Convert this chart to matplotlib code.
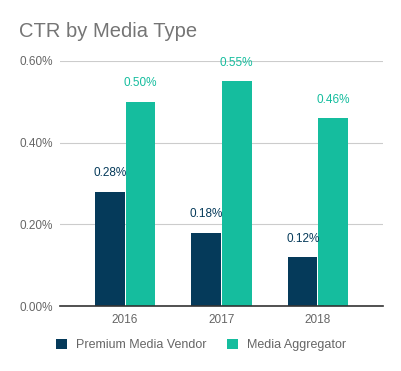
import matplotlib
matplotlib.use("Agg")
import matplotlib.pyplot as plt
import numpy as np

years = ["2016", "2017", "2018"]
premium = [0.28, 0.18, 0.12]
aggregator = [0.50, 0.55, 0.46]
series_names = ["Premium Media Vendor", "Media Aggregator"]
yticks = [0.0, 0.2, 0.4, 0.6]

dark = "#053a5a"
green = "#15bd9e"

plt.rcParams['font.family'] = ['Liberation Sans', 'DejaVu Sans']

fig = plt.figure(figsize=(4.02, 3.71), dpi=100)
ax = fig.add_axes([0.149, 0.175, 0.804, 0.661])

x = np.arange(len(years))
w = 0.31
ax.bar(x - w / 2 - 0.005, premium, w, color=dark, label=series_names[0], zorder=3)
ax.bar(x + w / 2 + 0.005, aggregator, w, color=green, label=series_names[1], zorder=3)

for i in range(len(years)):
    ax.text(x[i] - w / 2, premium[i] + 0.045, "%.2f%%" % premium[i], ha="center", va="center",
            color=dark, fontsize=8.5, zorder=4)
    ax.text(x[i] + w / 2, aggregator[i] + 0.045, "%.2f%%" % aggregator[i], ha="center", va="center",
            color=green, fontsize=8.5, zorder=4)

ax.set_xlim(-0.675, 2.675)
ax.set_ylim(0, 0.6)
ax.set_yticks(yticks)
ax.set_yticklabels(["%.2f%%" % v for v in yticks])
ax.set_xticks(x)
ax.set_xticklabels(years)
ax.grid(axis="y", color="#cccccc", linewidth=0.8, zorder=0)
ax.axhline(0, color="#333333", linewidth=1.2, zorder=5, clip_on=False)
for s in ax.spines.values():
    s.set_visible(False)
ax.tick_params(length=0, labelsize=8.5, colors="#666666")
ax.tick_params(axis="y", pad=5)
ax.tick_params(axis="x", pad=6)

fig.text(0.047, 0.915, "CTR by Media Type", fontsize=14.5, color="#757575", va="center")

leg = fig.legend(loc="center", bbox_to_anchor=(0.5, 0.07), ncol=2, frameon=False,
                 fontsize=9, handlelength=0.9, handleheight=0.9, columnspacing=1.6,
                 handletextpad=0.7)
for t in leg.get_texts():
    t.set_color("#666666")

fig.savefig("out.png", dpi=100)
